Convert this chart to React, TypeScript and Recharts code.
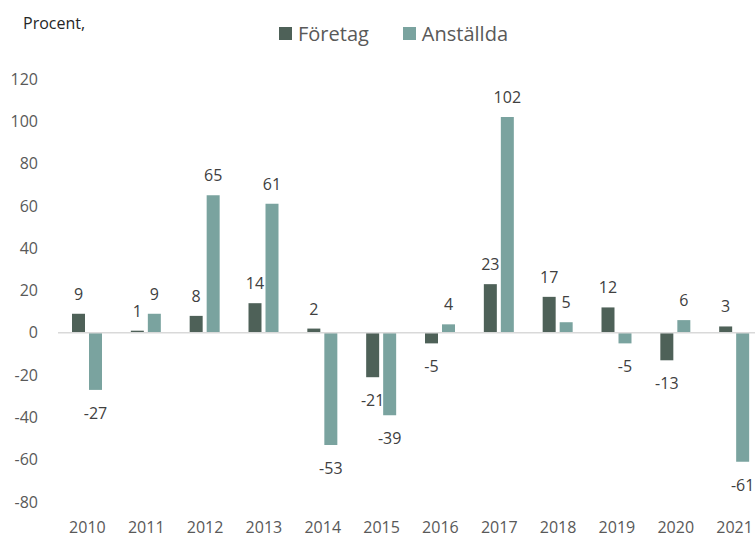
import React from "react";
import { BarChart, Bar, XAxis, YAxis, ReferenceLine, LabelList } from "recharts";

const years = ["2010", "2011", "2012", "2013", "2014", "2015", "2016", "2017", "2018", "2019", "2020", "2021"];
const foretag = [9, 1, 8, 14, 2, -21, -5, 23, 17, 12, -13, 3];
const anstallda = [-27, 9, 65, 61, -53, -39, 4, 102, 5, -5, 6, -61];
const yTicks = [-80, -60, -40, -20, 0, 20, 40, 60, 80, 100, 120];
const seriesNames = ["Företag", "Anställda"];
const colors = ["#4e6158", "#7aa39f"];

const data = years.map((y, i) => ({ year: y, f: foretag[i], a: anstallda[i] }));

const FONT = "'Open Sans', 'Noto Sans', sans-serif";

const renderLabel = (props: any) => {
  const { x, y, width, height, value } = props;
  const top = Math.min(y, y + height);
  const bottom = Math.max(y, y + height);
  const cx = x + width / 2;
  const ty = value >= 0 ? top - 20 : bottom + 23;
  return (
    <text x={cx} y={ty} textAnchor="middle" dominantBaseline="central" fontSize={16} fill="#404040" fontFamily={FONT}>
      {value}
    </text>
  );
};

export default function App() {
  return (
    <div style={{ position: "fixed", left: 0, top: 0, width: 755, height: 538, overflow: "hidden", background: "#fff", fontFamily: FONT }}>
      <div style={{ position: "absolute", left: 23, top: 12, fontSize: 16, color: "#262626" }}>Procent,</div>
      <div style={{ position: "absolute", left: 279, top: 20, display: "flex", alignItems: "center", fontSize: 20, color: "#595959" }}>
        {seriesNames.map((n, i) => (
          <div key={n} style={{ display: "flex", alignItems: "center", marginRight: i === 0 ? 34 : 0 }}>
            <div style={{ width: 13, height: 13, background: colors[i], marginRight: 6 }} />
            <span>{n}</span>
          </div>
        ))}
      </div>
      <BarChart width={770} height={538} data={data} margin={{ top: 79, right: 6, bottom: 0, left: 0 }} barSize={13} barGap={4}>
        <XAxis dataKey="year" axisLine={false} tickLine={false} tickSize={0} tickMargin={20} height={36}
          tick={{ fontSize: 16, fill: "#595959", fontFamily: FONT }} interval={0} />
        <YAxis domain={[-80, 120]} ticks={yTicks} axisLine={false} tickLine={false} tickSize={0} tickMargin={20} width={58}
          tick={{ fontSize: 16, fill: "#595959", fontFamily: FONT }} interval={0} />
        <ReferenceLine y={0} stroke="#d9d9d9" strokeWidth={1.5} />
        <Bar dataKey="f" name={seriesNames[0]} fill={colors[0]} isAnimationActive={false}>
          <LabelList dataKey="f" content={renderLabel} />
        </Bar>
        <Bar dataKey="a" name={seriesNames[1]} fill={colors[1]} isAnimationActive={false}>
          <LabelList dataKey="a" content={renderLabel} />
        </Bar>
      </BarChart>
    </div>
  );
}
